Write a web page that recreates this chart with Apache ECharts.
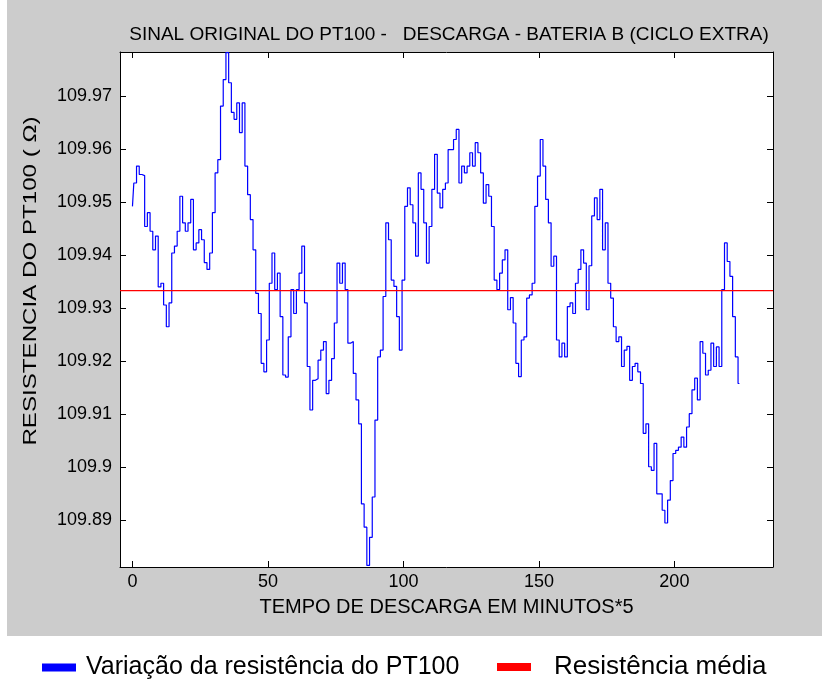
<!DOCTYPE html>
<html>
<head>
<meta charset="utf-8">
<script src="https://cdn.jsdelivr.net/npm/echarts@6.0.0/dist/echarts.min.js"></script>
<style>
  html, body { margin: 0; padding: 0; background: #fff; }
  #main { width: 838px; height: 683px; }
</style>
</head>
<body>
<div id="main"></div>
<script>
// resistencia do PT100 (ohm), uma leitura a cada 5 minutos
var resistencia = [
  109.9492, 109.9536, 109.9568, 109.9552, 109.9550, 109.9454, 109.9480, 109.9445, 109.9410, 109.9436,
  109.9340, 109.9347, 109.9306, 109.9265, 109.9310, 109.9404, 109.9417, 109.9445, 109.9511, 109.9461,
  109.9445, 109.9461, 109.9505, 109.9410, 109.9423, 109.9448, 109.9429, 109.9386, 109.9373, 109.9404,
  109.9480, 109.9555, 109.9580, 109.9681, 109.9731, 109.9782, 109.9725, 109.9669, 109.9656, 109.9687,
  109.9631, 109.9687, 109.9568, 109.9514, 109.9467, 109.9410, 109.9328, 109.9290, 109.9196, 109.9180,
  109.9240, 109.9347, 109.9404, 109.9335, 109.9366, 109.9284, 109.9174, 109.9170, 109.9246, 109.9335,
  109.9290, 109.9335, 109.9366, 109.9417, 109.9310, 109.9190, 109.9108, 109.9164, 109.9167, 109.9202,
  109.9221, 109.9237, 109.9139, 109.9164, 109.9205, 109.9272, 109.9385, 109.9347, 109.9385, 109.9335,
  109.9234, 109.9237, 109.9177, 109.9127, 109.9082, 109.8931, 109.8887, 109.8815, 109.8868, 109.8944,
  109.9089, 109.9208, 109.9221, 109.9322, 109.9461, 109.9429, 109.9353, 109.9341, 109.9284, 109.9221,
  109.9353, 109.9492, 109.9527, 109.9495, 109.9461, 109.9398, 109.9555, 109.9524, 109.9461, 109.9385,
  109.9454, 109.9524, 109.9590, 109.9517, 109.9489, 109.9524, 109.9536, 109.9599, 109.9599, 109.9618,
  109.9637, 109.9536, 109.9568, 109.9555, 109.9568, 109.9593, 109.9568, 109.9612, 109.9593, 109.9555,
  109.9498, 109.9533, 109.9511, 109.9454, 109.9353, 109.9335, 109.9366, 109.9391, 109.9410, 109.9297,
  109.9320, 109.9272, 109.9196, 109.9171, 109.9240, 109.9246, 109.9319, 109.9325, 109.9347, 109.9492,
  109.9549, 109.9618, 109.9568, 109.9505, 109.9461, 109.9379, 109.9398, 109.9240, 109.9208, 109.9234,
  109.9208, 109.9303, 109.9310, 109.9290, 109.9347, 109.9373, 109.9410, 109.9385, 109.9297, 109.9380,
  109.9474, 109.9508, 109.9467, 109.9524, 109.9410, 109.9461, 109.9347, 109.9319, 109.9265, 109.9237,
  109.9246, 109.9190, 109.9221, 109.9228, 109.9164, 109.9190, 109.9196, 109.9180, 109.9158, 109.9064,
  109.9082, 109.9001, 109.8994, 109.9045, 109.8950, 109.8950, 109.8919, 109.8895, 109.8938, 109.8975,
  109.9026, 109.9032, 109.9038, 109.9057, 109.9038, 109.9076, 109.9101, 109.9146, 109.9168, 109.9127,
  109.9237, 109.9215, 109.9174, 109.9183, 109.9234, 109.9190, 109.9227, 109.9190, 109.9335, 109.9423,
  109.9388, 109.9360, 109.9284, 109.9208, 109.9158
];
var media = 109.9333; // resistencia media

var xTicks = [0, 50, 100, 150, 200];
var yTicks = [109.89, 109.9, 109.91, 109.92, 109.93, 109.94, 109.95, 109.96, 109.97];

var xMin = -4.6, xMax = 236.4;
var yMin = 109.8812, yMax = 109.9783;

var fonte = '"Liberation Sans", Arial, sans-serif';

var serieSinal = resistencia.map(function (v, i) { return [i, v]; });
var serieMedia = [[xMin, media], [xMax, media]];

var chart = echarts.init(document.getElementById('main'));

function eixoX(pos, mostraTexto) {
  return {
    type: 'value', position: pos, min: xMin, max: xMax,
    axisLine: { show: true, onZero: false, lineStyle: { color: '#000', width: 1 } },
    axisTick: { show: true, inside: true, length: 6, customValues: xTicks, lineStyle: { color: '#000' } },
    axisLabel: { show: mostraTexto, customValues: xTicks, color: '#000', fontFamily: fonte, fontSize: 18, margin: 6 },
    splitLine: { show: false },
    name: mostraTexto ? 'TEMPO DE DESCARGA EM MINUTOS*5' : '',
    nameLocation: 'middle', nameGap: 30,
    nameTextStyle: { color: '#000', fontFamily: fonte, fontSize: 20 }
  };
}
function eixoY(pos, mostraTexto) {
  return {
    type: 'value', position: pos, min: yMin, max: yMax,
    axisLine: { show: true, onZero: false, lineStyle: { color: '#000', width: 1 } },
    axisTick: { show: true, inside: true, length: 6, customValues: yTicks, lineStyle: { color: '#000' } },
    axisLabel: {
      show: mostraTexto, customValues: yTicks, color: '#000', fontFamily: fonte, fontSize: 18, margin: 8,
      formatter: function (v) { return String(+v.toFixed(2)); }
    },
    splitLine: { show: false }
  };
}

var legendaTexto = { color: '#000', fontFamily: fonte, fontSize: 25 };

chart.setOption({
  backgroundColor: '#fff',
  animation: false,
  graphic: [{
    type: 'rect', z: -10, silent: true,
    shape: { x: 7, y: 0, width: 815, height: 636 },
    style: { fill: '#cccccc' }
  }, {
    type: 'rect', z: -5, silent: true,
    shape: { x: 120, y: 52, width: 653, height: 515 },
    style: { fill: '#ffffff' }
  }, {
    // titulo do eixo y (texto esticado como no original)
    type: 'text', silent: true,
    x: 31, y: 281, rotation: Math.PI / 2, scaleX: 1.27,
    style: {
      text: 'RESISTENCIA DO PT100 ( \u03A9)',
      fill: '#000', font: '19px ' + fonte,
      align: 'center', verticalAlign: 'middle'
    }
  }],
  title: {
    text: 'SINAL ORIGINAL DO PT100 -   DESCARGA - BATERIA B (CICLO EXTRA)',
    left: 444, top: 20, textAlign: 'center',
    textStyle: { color: '#000', fontFamily: fonte, fontSize: 19, fontWeight: 'normal' }
  },
  legend: [{
    left: 37, top: 650, itemWidth: 34, itemHeight: 8, icon: 'rect',
    textStyle: Object.assign({ padding: [0, 0, 0, 5] }, legendaTexto),
    data: ['Variação da resistência do PT100']
  }, {
    left: 492, top: 649, itemWidth: 34, itemHeight: 8, icon: 'rect',
    textStyle: Object.assign({ padding: [0, 0, 0, 18] }, legendaTexto, { fontSize: 26 }),
    data: ['Resistência média']
  }],
  grid: { left: 120, top: 52, right: 65, bottom: 116 },
  xAxis: [eixoX('bottom', true), eixoX('top', false)],
  yAxis: [eixoY('left', true), eixoY('right', false)],
  series: [{
    name: 'Variação da resistência do PT100',
    type: 'line', step: 'middle', showSymbol: false,
    lineStyle: { color: '#0000ff', width: 1.2 },
    itemStyle: { color: '#0000ff' },
    data: serieSinal
  }, {
    name: 'Resistência média',
    type: 'line', showSymbol: false,
    lineStyle: { color: '#ff0000', width: 1.2 },
    itemStyle: { color: '#ff0000' },
    data: serieMedia
  }]
});
</script>
</body>
</html>
